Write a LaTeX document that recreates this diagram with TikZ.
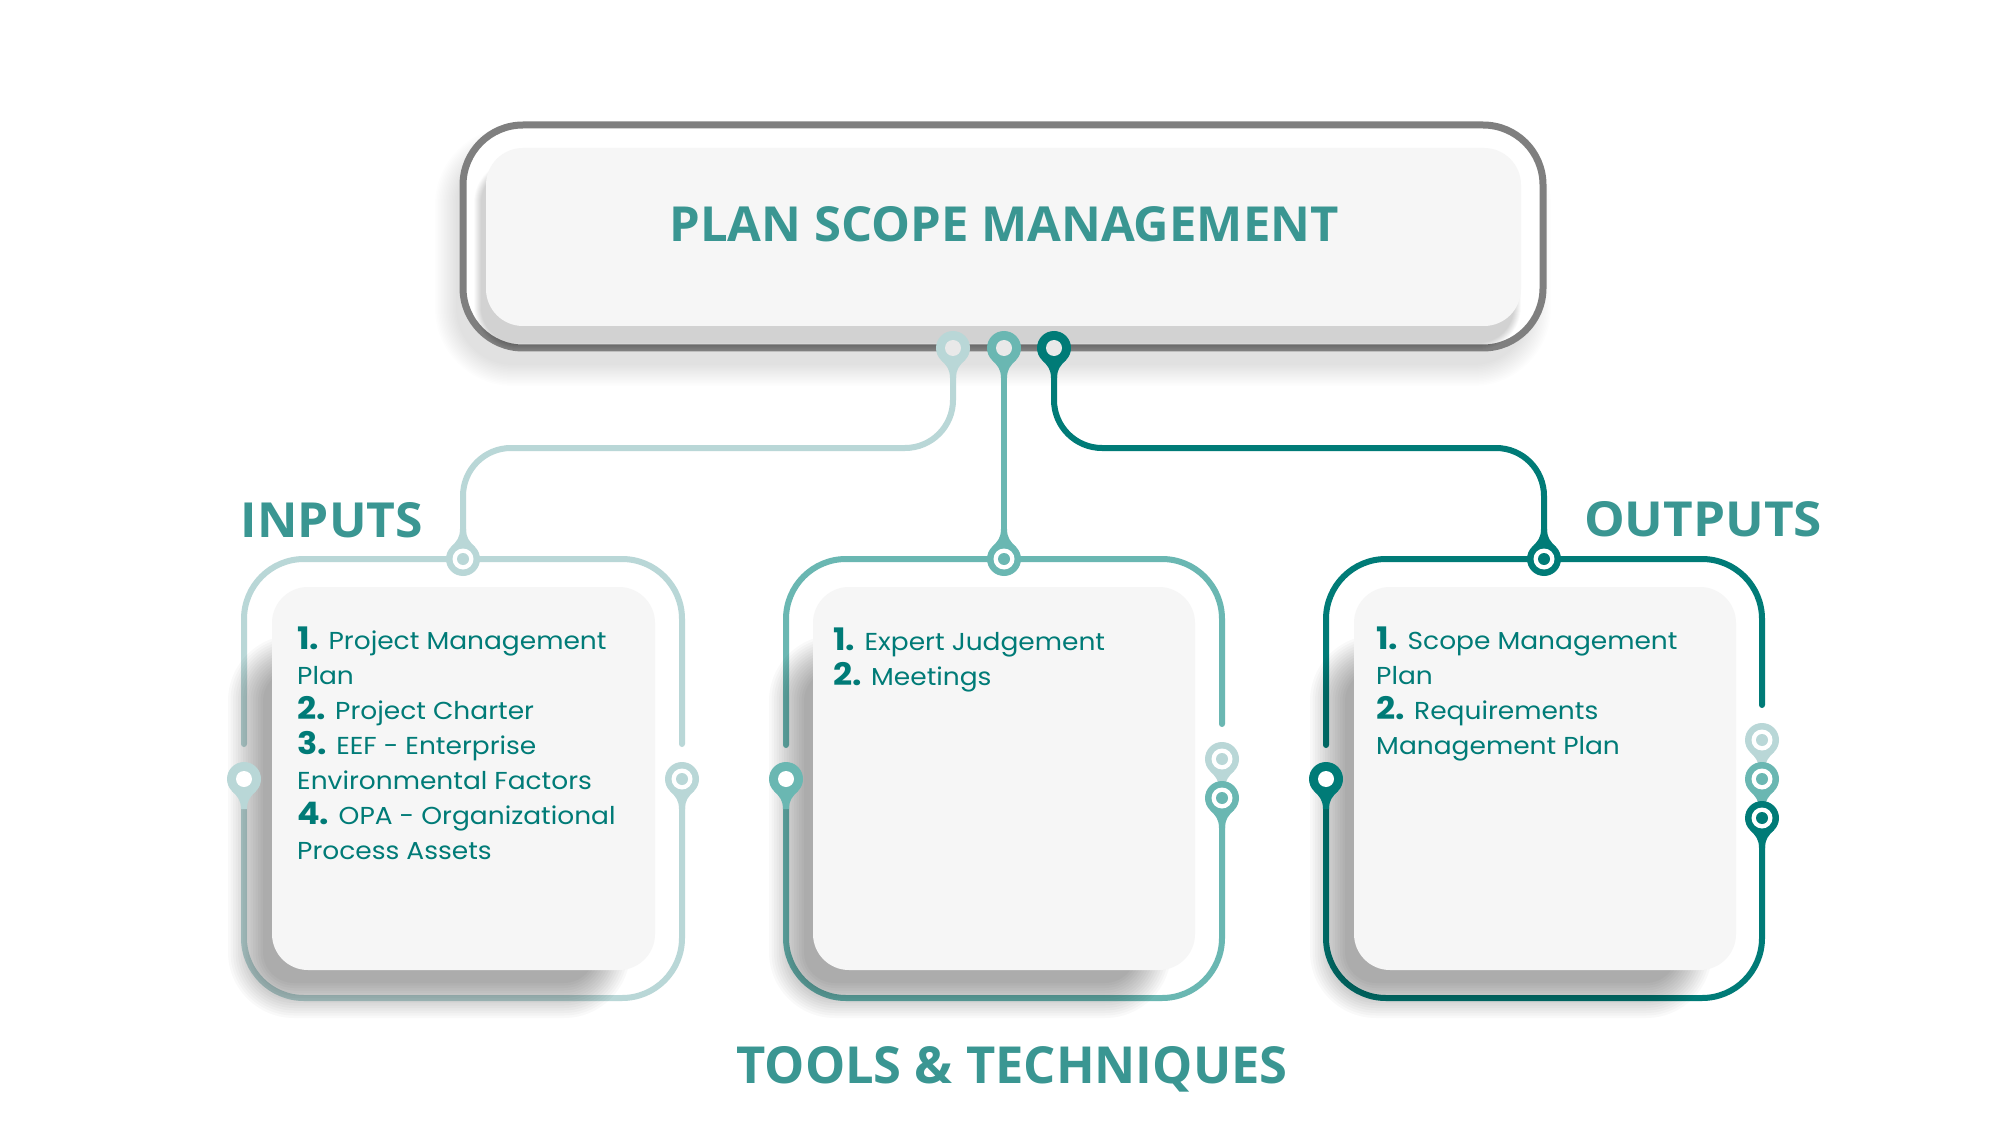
\documentclass[tikz,border=0pt]{standalone}
\usepackage{graphicx}
\usepackage{fontspec}
\setmainfont{Poppins}[FakeStretch=1.08]
\newfontfamily\headfont{Open Sans}
\definecolor{pale}{RGB}{185,215,215}
\definecolor{midteal}{RGB}{106,183,178}
\definecolor{dteal}{RGB}{0,123,119}
\definecolor{olgray}{RGB}{127,127,127}
\definecolor{cardbg}{RGB}{246,246,246}
\definecolor{headc}{RGB}{58,150,146}
\definecolor{holegray}{RGB}{233,233,233}

\tikzset{
 conn/.style={line width=6pt, line cap=round},
 boxline/.style={line width=6pt, line cap=round, rounded corners=60pt},
 card/.style={fill=cardbg, rounded corners=36pt},
 itemtext/.style={anchor=base west, inner sep=0pt, text=dteal, font=\fontsize{24.5}{35}\selectfont},
 heading/.style={anchor=base, inner sep=0pt, text=headc, font=\headfont\bfseries},
}
\newcommand{\nb}[1]{{\bfseries\fontsize{31}{35}\selectfont #1}}
\newcommand{\pinbody}[3]{%
  \fill[#2] (#1) circle (17pt);
  \fill[#2, shift={(#1)}, rotate=#3] (-12,12) .. controls (-6,18) and (-3.2,21) .. (-3,30) -- (3,30) .. controls (3.2,21) and (6,18) .. (12,12) -- cycle;}
\newcommand{\pinhollow}[4]{\pinbody{#1}{#2}{#3}\fill[#4] (#1) circle (8pt);}
\newcommand{\pindot}[3]{\pinbody{#1}{#2}{#3}\fill[white] (#1) circle (10.5pt);\fill[#2] (#1) circle (6pt);}
% soft shadow: x1,y1,x2,y2, corner radius, spread, opacity per layer, dx, dy
\newcommand{\softshadow}[9]{%
  \foreach \k in {0,...,14}{%
    \pgfmathsetmacro{\ee}{#6-\k*(#6)/12}%
    \pgfmathsetmacro{\rr}{max(#5+\ee,2)}%
    \fill[black, opacity=#7, rounded corners=\rr pt]
      ({#1+#8-\ee},{#2+#9-\ee}) rectangle ({#3+#8+\ee},{#4+#9+\ee});
  }}

\begin{document}
\begin{tikzpicture}[x=1pt, y=-1pt]
\fill[white] (0,0) rectangle (2010,1131);
\useasboundingbox (0,0) rectangle (2010,1131);

% coordinates
\coordinate (tpA) at (953,348);
\coordinate (tpB) at (1004,348);
\coordinate (tpC) at (1054,348);
\coordinate (ipA) at (463,559);
\coordinate (ipB) at (1004,559);
\coordinate (ipC) at (1544,559);
\coordinate (jA) at (700,448);
\coordinate (jC) at (1300,448);
\coordinate (lA) at (244,779);
\coordinate (rA) at (682,779);
\coordinate (lB) at (786,779);
\coordinate (rB1) at (1222,759);
\coordinate (rB2) at (1222,798);
\coordinate (lC) at (1326,779);
\coordinate (rC1) at (1762,740);
\coordinate (rC2) at (1762,779);
\coordinate (rC3) at (1762,818);

% top box
\softshadow{463}{125}{1543}{348}{60}{18}{0.008}{-10}{20}
\draw[line width=7pt, draw=olgray, fill=white, rounded corners=60pt] (463,125) rectangle (1543,348);
\softshadow{486}{148}{1521}{326}{37}{6}{0.011}{-6}{18}
\fill[cardbg, rounded corners=37pt] (486,148) rectangle (1521,326);
\node[heading] (title) at (1004,242) {\resizebox{669pt}{35pt}{PLAN SCOPE MANAGEMENT}};

% connectors
\draw[conn, pale, rounded corners=48pt] (tpA) |- (jA) -| (ipA);
\draw[conn, midteal] (tpB) -- (ipB);
\draw[conn, dteal, rounded corners=48pt] (tpC) |- (jC) -| (ipC);

% box outlines
\draw[boxline, pale] (244,744) -- (244,559) -- (682,559) -- (682,744);
\draw[boxline, pale] (rA) -- (682,998) -- (244,998) -- (lA);
\draw[boxline, midteal] (786,745) -- (786,559) -- (1222,559) -- (1222,724);
\draw[boxline, midteal] (rB2) -- (1222,998) -- (786,998) -- (lB);
\draw[boxline, dteal] (1326,745) -- (1326,559) -- (1762,559) -- (1762,705);
\draw[boxline, dteal] (rC3) -- (1762,998) -- (1326,998) -- (lC);

% card shadows and cards
\softshadow{258}{665}{600}{988}{36}{30}{0.022}{0}{0}
\softshadow{799}{665}{1141}{988}{36}{30}{0.022}{0}{0}
\softshadow{1340}{665}{1682}{988}{36}{30}{0.022}{0}{0}
\fill[card] (272,587) rectangle (655,970);
\fill[card] (813,587) rectangle (1195,970);
\fill[card] (1354,587) rectangle (1736,970);

% texts
\node[itemtext] (a1) at (297,649) {\nb{1.} Project Management};
\node[itemtext] (a2) at (297,684) {Plan};
\node[itemtext] (a3) at (297,719) {\nb{2.} Project Charter};
\node[itemtext] (a4) at (297,754) {\nb{3.} EEF - Enterprise};
\node[itemtext] (a5) at (297,789) {Environmental Factors};
\node[itemtext] (a6) at (297,824) {\nb{4.} OPA - Organizational};
\node[itemtext] (a7) at (297,859) {Process Assets};

\node[itemtext] (b1) at (833,650) {\nb{1.} Expert Judgement};
\node[itemtext] (b2) at (833,685) {\nb{2.} Meetings};

\node[itemtext] (c1) at (1376,649) {\nb{1.} Scope Management};
\node[itemtext] (c2) at (1376,684) {Plan};
\node[itemtext] (c3) at (1376,719) {\nb{2.} Requirements};
\node[itemtext] (c4) at (1376,754) {Management Plan};

% pins
\pinhollow{tpA}{pale}{0}{holegray}
\pinhollow{tpB}{midteal}{0}{holegray}
\pinhollow{tpC}{dteal}{0}{holegray}
\pindot{ipA}{pale}{180}
\pindot{ipB}{midteal}{180}
\pindot{ipC}{dteal}{180}
\pinhollow{lA}{pale}{0}{white}
\pindot{rA}{pale}{0}
\pinhollow{lB}{midteal}{0}{white}
\pindot{rB1}{pale}{0}
\pindot{rB2}{midteal}{0}
\pinhollow{lC}{dteal}{0}{white}
\pindot{rC1}{pale}{0}
\pindot{rC2}{midteal}{0}
\pindot{rC3}{dteal}{0}

% headings
\node[heading] (inp) at (332,537) {\resizebox{182pt}{35pt}{INPUTS}};
\node[heading] (outp) at (1703,536) {\resizebox{238pt}{35pt}{OUTPUTS}};
\node[heading] (tools) at (1012,1083) {\resizebox{551pt}{37pt}{TOOLS \& TECHNIQUES}};
\end{tikzpicture}
\end{document}
